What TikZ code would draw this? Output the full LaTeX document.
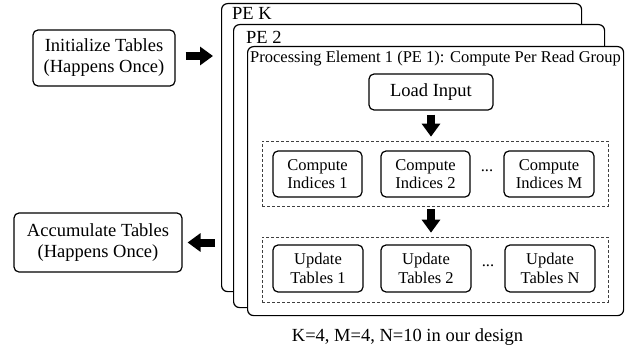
\documentclass[tikz,border=0pt]{standalone}
\usepackage{fontspec}
\setmainfont{Liberation Serif}
\usetikzlibrary{positioning, arrows.meta}

\begin{document}
\begin{tikzpicture}[x=1pt, y=-1pt,
	bigfont/.style={font=\fontsize{18.5}{21}\selectfont},
	smallfont/.style={font=\fontsize{16.5}{18.5}\selectfont},
	box/.style={draw, line width=1.2pt, rounded corners=5pt, align=center, inner sep=0pt},
	pebox/.style={draw, line width=1.2pt, rounded corners=6pt, fill=white, anchor=north west, inner sep=0pt},
	group/.style={draw=black!75, dash pattern=on 3pt off 2pt, line width=0.7pt, inner sep=0pt},
	blockarrow/.style={line width=8pt, -{Triangle[length=13pt, width=18pt]}}]
			\useasboundingbox (0,0) rectangle (631,353);
			\node[box, bigfont, minimum width=142pt, minimum height=56pt] (init) at (104,58) {Initialize Tables\\(Happens Once)};
			\node[box, bigfont, minimum width=168pt, minimum height=59pt] (accum) at (98,242.5) {Accumulate Tables\\(Happens Once)};
			\node[pebox, minimum width=360pt, minimum height=288pt] (pek) at (221,3) {};
			\node[pebox, minimum width=371pt, minimum height=283pt] (pe2) at (233,24) {};
			\node[pebox, minimum width=376pt, minimum height=269pt] (pe1) at (247,46) {};
			\node[bigfont, anchor=north west, inner sep=0pt] (pektitle) at (232,7) {PE K};
			\node[bigfont, anchor=north west, inner sep=0pt] (pe2title) at (246,31) {PE 2};
			\node[smallfont, anchor=north west, inner sep=0pt] (pe1title) at (250,51) {Processing Element 1 (PE 1): Compute Per Read Group};
			\node[box, bigfont, minimum width=124pt, minimum height=36pt] (load) at (431,92) {Load Input};
			\node[group, minimum width=346pt, minimum height=65pt] (computes) at (435,173.5) {};
			\node[group, minimum width=346pt, minimum height=65pt] (updates) at (435,269.5) {};
			\node[box, smallfont, minimum width=89pt, minimum height=46pt] (ci1) at (317.5,174) {Compute\\Indices 1};
			\node[box, smallfont, minimum width=89pt, minimum height=46pt] (ci2) at (425.5,174) {Compute\\Indices 2};
			\node[box, smallfont, minimum width=90pt, minimum height=46pt] (cim) at (549,174) {Compute\\Indices M};
			\node[box, smallfont, minimum width=90pt, minimum height=47pt] (ut1) at (318,268.5) {Update\\Tables 1};
			\node[box, smallfont, minimum width=90pt, minimum height=47pt] (ut2) at (426,268.5) {Update\\Tables 2};
			\node[box, smallfont, minimum width=90pt, minimum height=47pt] (utn) at (550,268.5) {Update\\Tables N};
			\node[smallfont] (cdots) at (487,171) {...};
			\node[smallfont] (udots) at (488,266) {...};
			\draw[blockarrow, shorten <=10pt, shorten >=8pt] (init.east |- 0,56) -- (pek.west |- 0,56);
			\draw[blockarrow, shorten <=6pt, shorten >=5pt] (pek.west |- accum.east) -- (accum.east);
			\draw[blockarrow, shorten <=4pt, shorten >=4pt] (load.south) -- (load.south |- computes.north);
			\draw[blockarrow, shorten <=3pt, shorten >=4pt] (load.south |- computes.south) -- (load.south |- updates.north);
			\node[bigfont] (note) at (407.5,337) {K=4, M=4, N=10 in our design};
		\end{tikzpicture}
\end{document}
